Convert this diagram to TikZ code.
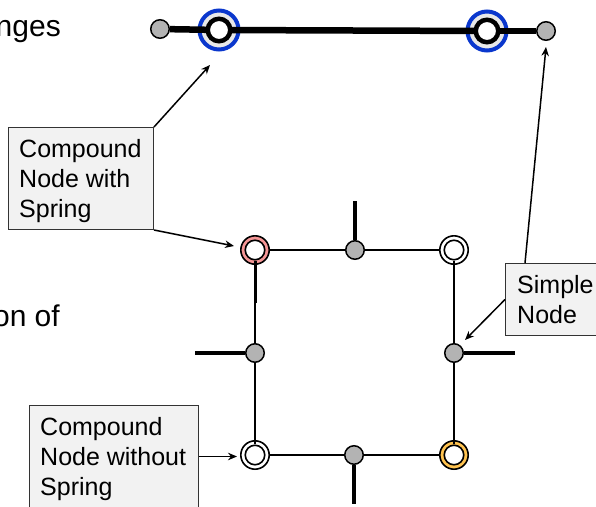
\documentclass[tikz,border=0pt]{standalone}
\usepackage{fontspec}
\setmainfont{Liberation Sans}
\usetikzlibrary{arrows.meta}
\definecolor{nodegray}{RGB}{179,179,179}
\definecolor{ringblue}{RGB}{10,55,205}
\definecolor{ringfill}{RGB}{232,232,232}
\definecolor{ringpink}{RGB}{245,150,150}
\definecolor{ringyellow}{RGB}{255,195,80}
\definecolor{boxfill}{RGB}{242,242,242}
\tikzset{
  gnode/.style={circle, draw=black, line width=1.5pt, fill=nodegray, minimum size=18.5pt, inner sep=0pt},
  ringnode/.style={circle, draw=black, line width=1.6pt, minimum size=28.4pt, inner sep=0pt},
  innerw/.style={circle, draw=black, line width=1.6pt, fill=white, minimum size=19.5pt, inner sep=0pt},
  bluering/.style={circle, draw=ringblue, line width=4pt, fill=ringfill, minimum size=39pt, inner sep=0pt},
  blackring/.style={circle, draw=black, line width=4.5pt, fill=white, minimum size=22.5pt, inner sep=0pt},
  sqline/.style={line width=2pt},
  stubline/.style={line width=4.5pt},
  topline/.style={line width=6.5pt},
  callbox/.style={draw=black!80, line width=1pt, fill=boxfill, inner sep=0pt, anchor=north west},
  boxtext/.style={inner sep=0pt, anchor=north west, align=left, font=\fontsize{25}{30}\selectfont},
  fragtext/.style={inner sep=0pt, anchor=base east, font=\fontsize{30}{36}\selectfont},
  callout/.style={line width=1.5pt, -{Stealth[length=9pt,width=7.5pt]}}
}
\begin{document}
\begin{tikzpicture}[x=1pt,y=-1pt]
\useasboundingbox (0,0) rectangle (596,506);

% text fragments
\node[fragtext] (f1) at (61,36) {nges};
\node[fragtext] (f2) at (60,326) {on of};

% ---- top row ----
\node[bluering] (lc) at (219,30) {};
\node[bluering] (rc) at (487,31) {};
\node[gnode] (g1) at (160,29) {};
\node[gnode] (g2) at (546,31) {};
\draw[topline] (g1) -- (lc.center);
\draw[topline] (lc.center) -- (rc.center);
\draw[topline] (rc.center) -- (g2);
\node[blackring] (lci) at (lc) {};
\node[blackring] (rci) at (rc) {};

% ---- square ----
\node[ringnode, fill=ringpink] (tl) at (255,250) {};
\node[ringnode, fill=white] (tr) at (454,250) {};
\node[ringnode, fill=white] (bl) at (255,455) {};
\node[ringnode, fill=ringyellow] (br) at (454,455) {};
\node[innerw] (tli) at (tl) {};
\node[innerw] (tri) at (tr) {};
\node[innerw] (bli) at (bl) {};
\node[innerw] (bri) at (br) {};
\node[gnode] (tm) at (355,250) {};
\node[gnode] (bm) at (354,455) {};
\node[gnode] (ml) at (255,353) {};
\node[gnode] (mr) at (454,353) {};

\draw[sqline] (tl) -- (tm);
\draw[sqline] (tm) -- (tr);
\draw[sqline] (bl) -- (bm);
\draw[sqline] (bm) -- (br);
\coordinate (tlk) at (255,303);
\draw[line width=3pt] (tli.south) -- (tlk);
\draw[sqline] (tlk) -- (ml);
\draw[sqline] (ml) -- (bli.north);
\draw[sqline] (tri.south) -- (mr);
\draw[sqline] (mr) -- (bri.north);

% stubs
\coordinate (s1) at (355,201);
\coordinate (s2) at (195,353);
\coordinate (s3) at (515,353);
\coordinate (s4) at (354,504);
\draw[stubline] (s1) -- (tm);
\draw[stubline] (s2) -- (ml);
\draw[stubline] (mr) -- (s3);
\draw[stubline] (bm) -- (s4);

% ---- callout boxes ----
\node[callbox, minimum width=145pt, minimum height=102pt] (b1) at (8,127) {};
\node[boxtext] (b1t) at ([shift={(11pt,-9pt)}]b1.north west) {\strut Compound\\Node with\\Spring};
\node[callbox, minimum width=110pt, minimum height=72pt] (b2) at (505,263) {};
\node[boxtext] (b2t) at ([shift={(12pt,-9pt)}]b2.north west) {\strut Simple\\Node};
\node[callbox, minimum width=169pt, minimum height=102pt] (b3) at (29,405) {};
\node[boxtext] (b3t) at ([shift={(11pt,-9pt)}]b3.north west) {\strut Compound\\Node without\\Spring};

% ---- callout arrows ----
\coordinate (t1) at (210,65);
\coordinate (t2) at (234,246);
\coordinate (t3) at (465,340);
\coordinate (t4) at (546,47);
\draw[callout] (b1.north east) -- (t1);
\draw[callout] (b1.south east) -- (t2);
\draw[callout] (b2.west) -- (t3);
\draw[callout] ([xshift=20pt]b2.north west) -- (t4);
\draw[callout, shorten >=3pt] (b3.east) -- (b3.east -| bl.west);
\end{tikzpicture}
\end{document}
